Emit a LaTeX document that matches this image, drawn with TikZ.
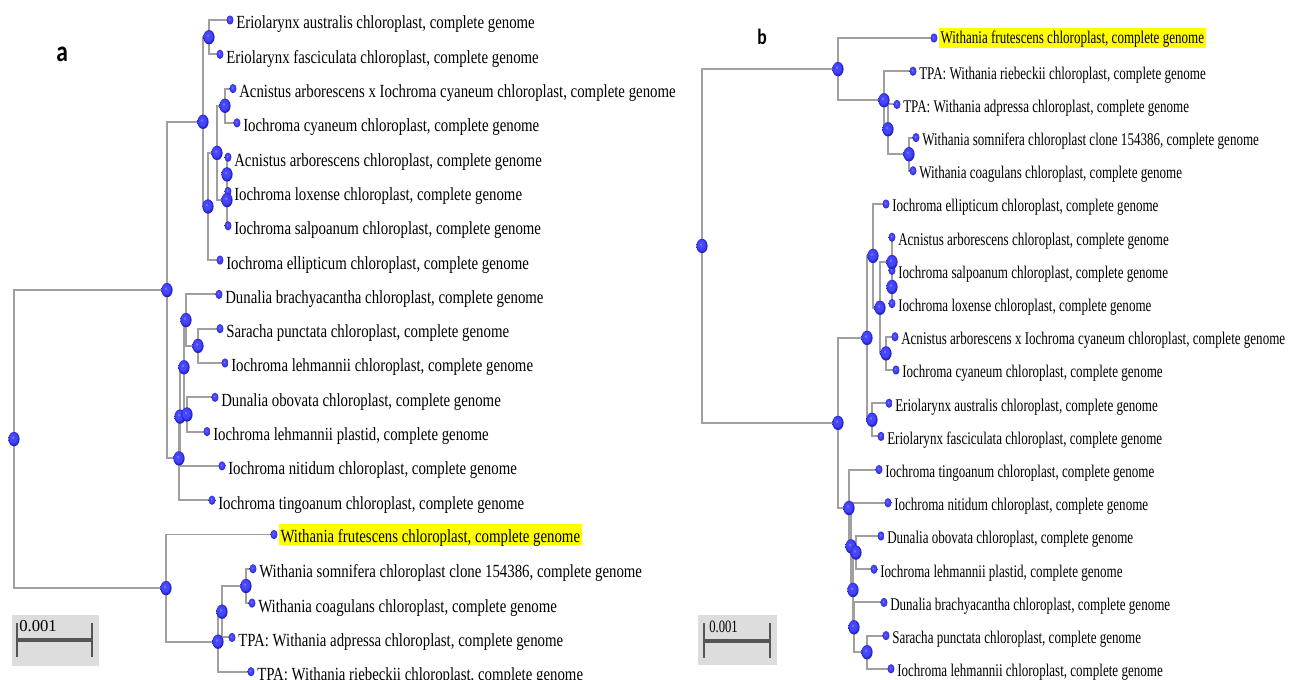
\documentclass[tikz,border=0pt]{standalone}
\usepackage{fontspec}
\usetikzlibrary{shapes.geometric,backgrounds}
\newfontfamily\treefonta[FakeStretch=0.8]{Liberation Serif}
\newfontfamily\treefontb[FakeStretch=0.73]{Liberation Serif}
\newfontfamily\barfont{Liberation Serif}
\newfontfamily\panelfont[FakeStretch=0.8]{Carlito}
\definecolor{branchgray}{RGB}{160,160,160}
\definecolor{barbox}{RGB}{221,221,221}
\definecolor{bardark}{RGB}{85,85,85}
\definecolor{hlyellow}{RGB}{255,255,0}
\definecolor{dotlight}{RGB}{150,150,255}
\definecolor{dotmid}{RGB}{70,70,255}
\definecolor{dotdark}{RGB}{30,30,190}
\pgfdeclareradialshading{bluedot}{\pgfpoint{-7bp}{7bp}}{color(0bp)=(dotlight); color(6bp)=(dotmid); color(16bp)=(dotmid); color(25bp)=(dotdark); color(50bp)=(dotdark)}

\begin{document}
\begin{tikzpicture}[
        x=0.75pt, y=-0.75pt,
        leaf/.style={ellipse, shading=bluedot, inner sep=0pt, minimum width=5.2pt, minimum height=6.9pt},
        inode/.style={ellipse, shading=bluedot, inner sep=0pt, minimum width=8.4pt, minimum height=10.8pt},
        taxa/.style={anchor=base west, inner sep=0pt, font=\treefonta\fontsize{13.9}{16}\selectfont},
        taxb/.style={anchor=base west, inner sep=0pt, font=\treefontb\fontsize{13.4}{16}\selectfont},
        hla/.style={fill=hlyellow, inner xsep=1.2pt, text height=14pt, text depth=2pt},
        hlb/.style={fill=hlyellow, inner xsep=1.2pt, text height=12pt, text depth=3pt},
        branch/.style={draw=branchgray, line width=1.4pt},
        tick/.style={draw=bardark, line width=1.5pt},
        bar/.style={draw=bardark, line width=2.6pt}
        ]

        \useasboundingbox (0, 0) rectangle (1293, 680);

        % Panel letters
        \node[anchor=base west, inner sep=0pt, font=\panelfont\bfseries\fontsize{22}{24}\selectfont] (pa) at (56, 62) {a};
        \node[anchor=base west, inner sep=0pt, font=\panelfont\bfseries\fontsize{16.5}{20}\selectfont] (pb) at (757, 45) {b};

        % ---------------- Tree a ----------------
        % Leaf markers
        \node[leaf] (a1) at (230, 20) {};
        \node[leaf] (a2) at (220, 54.3) {};
        \node[leaf] (a3) at (233, 88.6) {};
        \node[leaf] (a4) at (237, 122.9) {};
        \node[leaf] (a5) at (228, 157.2) {};
        \node[leaf] (a6) at (228, 191.5) {};
        \node[leaf] (a7) at (228, 225.8) {};
        \node[leaf] (a8) at (220, 260.1) {};
        \node[leaf] (a9) at (219, 294.4) {};
        \node[leaf] (a10) at (220, 328.7) {};
        \node[leaf] (a11) at (225, 363) {};
        \node[leaf] (a12) at (215, 397.3) {};
        \node[leaf] (a13) at (207, 431.6) {};
        \node[leaf] (a14) at (222, 465.9) {};
        \node[leaf] (a15) at (212, 500.2) {};
        \node[leaf] (a16) at (274, 534.5) {};
        \node[leaf] (a17) at (253, 568.8) {};
        \node[leaf] (a18) at (252, 603.1) {};
        \node[leaf] (a19) at (232, 637.4) {};
        \node[leaf] (a20) at (251, 671.7) {};

        % Leaf names
        \node[taxa] (ta1) at ([xshift=4.5pt,yshift=-6.75pt]a1.center) {Eriolarynx australis chloroplast, complete genome};
        \node[taxa] (ta2) at ([xshift=4.5pt,yshift=-6.75pt]a2.center) {Eriolarynx fasciculata chloroplast, complete genome};
        \node[taxa] (ta3) at ([xshift=4.5pt,yshift=-6.75pt]a3.center) {Acnistus arborescens x Iochroma cyaneum chloroplast, complete genome};
        \node[taxa] (ta4) at ([xshift=4.5pt,yshift=-6.75pt]a4.center) {Iochroma cyaneum chloroplast, complete genome};
        \node[taxa] (ta5) at ([xshift=4.5pt,yshift=-6.75pt]a5.center) {Acnistus arborescens chloroplast, complete genome};
        \node[taxa] (ta6) at ([xshift=4.5pt,yshift=-6.75pt]a6.center) {Iochroma loxense chloroplast, complete genome};
        \node[taxa] (ta7) at ([xshift=4.5pt,yshift=-6.75pt]a7.center) {Iochroma salpoanum chloroplast, complete genome};
        \node[taxa] (ta8) at ([xshift=4.5pt,yshift=-6.75pt]a8.center) {Iochroma ellipticum chloroplast, complete genome};
        \node[taxa] (ta9) at ([xshift=4.5pt,yshift=-6.75pt]a9.center) {Dunalia brachyacantha chloroplast, complete genome};
        \node[taxa] (ta10) at ([xshift=4.5pt,yshift=-6.75pt]a10.center) {Saracha punctata chloroplast, complete genome};
        \node[taxa] (ta11) at ([xshift=4.5pt,yshift=-6.75pt]a11.center) {Iochroma lehmannii chloroplast, complete genome};
        \node[taxa] (ta12) at ([xshift=4.5pt,yshift=-6.75pt]a12.center) {Dunalia obovata chloroplast, complete genome};
        \node[taxa] (ta13) at ([xshift=4.5pt,yshift=-6.75pt]a13.center) {Iochroma lehmannii plastid, complete genome};
        \node[taxa] (ta14) at ([xshift=4.5pt,yshift=-6.75pt]a14.center) {Iochroma nitidum chloroplast, complete genome};
        \node[taxa] (ta15) at ([xshift=4.5pt,yshift=-6.75pt]a15.center) {Iochroma tingoanum chloroplast, complete genome};
        \node[taxa, hla] (ta16) at ([xshift=3.5pt,yshift=-6.2pt]a16.center) {Withania frutescens chloroplast, complete genome};
        \node[taxa] (ta17) at ([xshift=4.5pt,yshift=-6.75pt]a17.center) {Withania somnifera chloroplast clone 154386, complete genome};
        \node[taxa] (ta18) at ([xshift=4.5pt,yshift=-6.75pt]a18.center) {Withania coagulans chloroplast, complete genome};
        \node[taxa] (ta19) at ([xshift=4.5pt,yshift=-6.75pt]a19.center) {TPA: Withania adpressa chloroplast, complete genome};
        \node[taxa] (ta20) at ([xshift=4.5pt,yshift=-6.75pt]a20.center) {TPA: Withania riebeckii chloroplast, complete genome};

        % Inner nodes
        \node[inode] (ar) at (14, 439.1) {};
        \node[inode] (an1) at (167, 290.1) {};
        \node[inode] (an2) at (203, 121.8) {};
        \node[inode] (an3) at (209, 37.2) {};
        \node[inode] (an4) at (208, 206.5) {};
        \node[inode] (an5) at (217, 152.9) {};
        \node[inode] (an6) at (225, 105.8) {};
        \node[inode] (an7) at (227, 200.1) {};
        \node[inode] (an8) at (227, 174.4) {};
        \node[inode] (an9) at (179, 458.4) {};
        \node[inode] (an10) at (180, 416.6) {};
        \node[inode] (an11) at (184, 367.3) {};
        \node[inode] (an12) at (186, 320.1) {};
        \node[inode] (an13) at (198, 345.9) {};
        \node[inode] (an14) at (187, 414.5) {};
        \node[inode] (an15) at (166, 588.1) {};
        \node[inode] (an16) at (218, 641.7) {};
        \node[inode] (an17) at (222, 611.7) {};
        \node[inode] (an18) at (246, 586) {};

        % ---------------- Tree b ----------------
        % Leaf markers
        \node[leaf] (b1) at (934, 38) {};
        \node[leaf] (b2) at (913, 71.2) {};
        \node[leaf] (b3) at (897, 104.4) {};
        \node[leaf] (b4) at (916, 137.6) {};
        \node[leaf] (b5) at (913, 170.8) {};
        \node[leaf] (b6) at (886, 204) {};
        \node[leaf] (b7) at (892, 237.2) {};
        \node[leaf] (b8) at (892, 270.4) {};
        \node[leaf] (b9) at (892, 303.6) {};
        \node[leaf] (b10) at (895, 336.8) {};
        \node[leaf] (b11) at (896, 370) {};
        \node[leaf] (b12) at (889, 403.2) {};
        \node[leaf] (b13) at (881, 436.4) {};
        \node[leaf] (b14) at (879, 469.6) {};
        \node[leaf] (b15) at (888, 502.8) {};
        \node[leaf] (b16) at (881, 536) {};
        \node[leaf] (b17) at (874, 569.2) {};
        \node[leaf] (b18) at (884, 602.4) {};
        \node[leaf] (b19) at (886, 635.6) {};
        \node[leaf] (b20) at (891, 668.8) {};

        % Leaf names
        \node[taxb, hlb] (tb1) at ([xshift=3.5pt,yshift=-4.5pt]b1.center) {Withania frutescens chloroplast, complete genome};
        \node[taxb] (tb2) at ([xshift=4.5pt,yshift=-6pt]b2.center) {TPA: Withania riebeckii chloroplast, complete genome};
        \node[taxb] (tb3) at ([xshift=4.5pt,yshift=-6pt]b3.center) {TPA: Withania adpressa chloroplast, complete genome};
        \node[taxb] (tb4) at ([xshift=4.5pt,yshift=-6pt]b4.center) {Withania somnifera chloroplast clone 154386, complete genome};
        \node[taxb] (tb5) at ([xshift=4.5pt,yshift=-6pt]b5.center) {Withania coagulans chloroplast, complete genome};
        \node[taxb] (tb6) at ([xshift=4.5pt,yshift=-6pt]b6.center) {Iochroma ellipticum chloroplast, complete genome};
        \node[taxb] (tb7) at ([xshift=4.5pt,yshift=-6pt]b7.center) {Acnistus arborescens chloroplast, complete genome};
        \node[taxb] (tb8) at ([xshift=4.5pt,yshift=-6pt]b8.center) {Iochroma salpoanum chloroplast, complete genome};
        \node[taxb] (tb9) at ([xshift=4.5pt,yshift=-6pt]b9.center) {Iochroma loxense chloroplast, complete genome};
        \node[taxb] (tb10) at ([xshift=4.5pt,yshift=-6pt]b10.center) {Acnistus arborescens x Iochroma cyaneum chloroplast, complete genome};
        \node[taxb] (tb11) at ([xshift=4.5pt,yshift=-6pt]b11.center) {Iochroma cyaneum chloroplast, complete genome};
        \node[taxb] (tb12) at ([xshift=4.5pt,yshift=-6pt]b12.center) {Eriolarynx australis chloroplast, complete genome};
        \node[taxb] (tb13) at ([xshift=4.5pt,yshift=-6pt]b13.center) {Eriolarynx fasciculata chloroplast, complete genome};
        \node[taxb] (tb14) at ([xshift=4.5pt,yshift=-6pt]b14.center) {Iochroma tingoanum chloroplast, complete genome};
        \node[taxb] (tb15) at ([xshift=4.5pt,yshift=-6pt]b15.center) {Iochroma nitidum chloroplast, complete genome};
        \node[taxb] (tb16) at ([xshift=4.5pt,yshift=-6pt]b16.center) {Dunalia obovata chloroplast, complete genome};
        \node[taxb] (tb17) at ([xshift=4.5pt,yshift=-6pt]b17.center) {Iochroma lehmannii plastid, complete genome};
        \node[taxb] (tb18) at ([xshift=4.5pt,yshift=-6pt]b18.center) {Dunalia brachyacantha chloroplast, complete genome};
        \node[taxb] (tb19) at ([xshift=4.5pt,yshift=-6pt]b19.center) {Saracha punctata chloroplast, complete genome};
        \node[taxb] (tb20) at ([xshift=4.5pt,yshift=-6pt]b20.center) {Iochroma lehmannii chloroplast, complete genome};

        % Inner nodes
        \node[inode] (br) at (702, 246) {};
        \node[inode] (bn1) at (838, 69.1) {};
        \node[inode] (bn2) at (884, 100.3) {};
        \node[inode] (bn3) at (888, 129.3) {};
        \node[inode] (bn4) at (909, 154.2) {};
        \node[inode] (bn5) at (838, 422.9) {};
        \node[inode] (bn6) at (867, 337.9) {};
        \node[inode] (bn7) at (873, 255.9) {};
        \node[inode] (bn8) at (880, 307.8) {};
        \node[inode] (bn9) at (892, 262.1) {};
        \node[inode] (bn10) at (892, 287) {};
        \node[inode] (bn11) at (886, 353.4) {};
        \node[inode] (bn12) at (872, 419.8) {};
        \node[inode] (bn13) at (849, 508) {};
        \node[inode] (bn14) at (851, 546.4) {};
        \node[inode] (bn15) at (853, 590) {};
        \node[inode] (bn16) at (856, 552.6) {};
        \node[inode] (bn17) at (854, 627.3) {};
        \node[inode] (bn18) at (867, 652.2) {};

        % Branches (under the markers)
        \begin{scope}[on background layer]
            \draw[branch] (an1.center) -| (ar.center) |- (an15.center);
            \draw[branch] (an2.center) -| (an1.center) |- (an9.center);
            \draw[branch] (an3.center) -| (an2.center) |- (an4.center);
            \draw[branch] (a1.center) -| (an3.center) |- (a2.center);
            \draw[branch] (an5.center) -| (an4.center) |- (a8.center);
            \draw[branch] (an6.center) -| (an5.center) |- (an7.center);
            \draw[branch] (a3.center) -| (an6.center) |- (a4.center);
            \draw[branch] (an8.center) -| (an7.center) |- (a7.center);
            \draw[branch] (a5.center) -| (an8.center) |- (a6.center);
            \draw[branch] (an10.center) -| (an9.center) |- (a15.center);
            \draw[branch] (an11.center) -| (an10.center) |- (a14.center);
            \draw[branch] (an12.center) -| (an11.center) |- (an14.center);
            \draw[branch] (a9.center) -| (an12.center) |- (an13.center);
            \draw[branch] (a10.center) -| (an13.center) |- (a11.center);
            \draw[branch] (a12.center) -| (an14.center) |- (a13.center);
            \draw[branch] (a16.center) -| (an15.center) |- (an16.center);
            \draw[branch] (an17.center) -| (an16.center) |- (a20.center);
            \draw[branch] (an18.center) -| (an17.center) |- (a19.center);
            \draw[branch] (a17.center) -| (an18.center) |- (a18.center);

            \draw[branch] (bn1.center) -| (br.center) |- (bn5.center);
            \draw[branch] (b1.center) -| (bn1.center) |- (bn2.center);
            \draw[branch] (b2.center) -| (bn2.center) |- (bn3.center);
            \draw[branch] (b3.center) -| (bn3.center) |- (bn4.center);
            \draw[branch] (b4.center) -| (bn4.center) |- (b5.center);
            \draw[branch] (bn6.center) -| (bn5.center) |- (bn13.center);
            \draw[branch] (bn7.center) -| (bn6.center) |- (bn12.center);
            \draw[branch] (b6.center) -| (bn7.center) |- (bn8.center);
            \draw[branch] (bn9.center) -| (bn8.center) |- (bn11.center);
            \draw[branch] (b7.center) -| (bn9.center) |- (bn10.center);
            \draw[branch] (b8.center) -| (bn10.center) |- (b9.center);
            \draw[branch] (b10.center) -| (bn11.center) |- (b11.center);
            \draw[branch] (b12.center) -| (bn12.center) |- (b13.center);
            \draw[branch] (b14.center) -| (bn13.center) |- (bn14.center);
            \draw[branch] (b15.center) -| (bn14.center) |- (bn15.center);
            \draw[branch] (bn16.center) -| (bn15.center) |- (bn17.center);
            \draw[branch] (b16.center) -| (bn16.center) |- (b17.center);
            \draw[branch] (b18.center) -| (bn17.center) |- (bn18.center);
            \draw[branch] (b19.center) -| (bn18.center) |- (b20.center);
        \end{scope}

        % Scale bars
        \fill[barbox] (12, 615) rectangle (99, 666);
        \draw[tick] (17, 623) -- (17, 657);
        \draw[tick] (92, 623) -- (92, 657);
        \draw[bar] (17, 640) -- (92, 640);
        \node[anchor=base west, inner sep=0pt, font=\barfont\fontsize{12.5}{14}\selectfont] (sa) at (19, 632) {0.001};

        \fill[barbox] (698, 615) rectangle (777, 665);
        \draw[tick] (704, 623) -- (704, 658);
        \draw[tick] (770, 623) -- (770, 658);
        \draw[bar] (704, 641) -- (770, 641);
        \node[anchor=base west, inner sep=0pt, font=\treefontb\fontsize{13}{15}\selectfont] (sb) at (709, 633) {0.001};

    \end{tikzpicture}
\end{document}
